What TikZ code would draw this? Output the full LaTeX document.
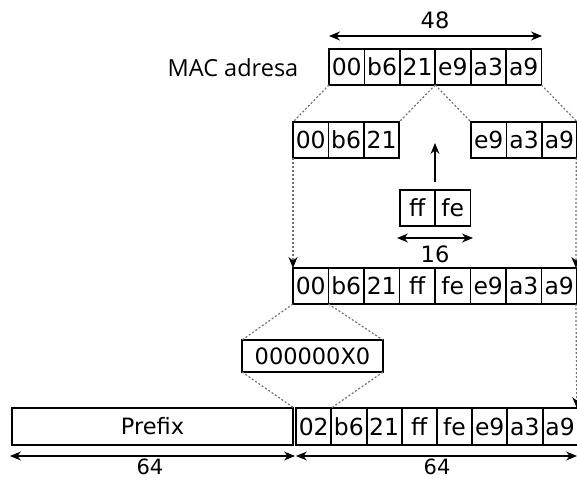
\documentclass[tikz,border=0pt]{standalone}
\usepackage{fontspec}
\setmainfont{DejaVu Sans}
\newfontfamily\labfont{Open Sans}
\usetikzlibrary{arrows.meta}
\begin{document}
\begin{tikzpicture}[x=1pt,y=-1pt,
  cell/.style={draw, line width=1.8pt, inner sep=0pt, outer sep=0pt,
    minimum width=35.4pt, minimum height=36pt, anchor=north west,
    font=\fontsize{23.5}{23.5}\selectfont},
  wide/.style={cell, minimum width=141pt, minimum height=32pt, font=\fontsize{22.5}{22.5}\selectfont},
  prefbox/.style={cell, minimum width=281pt, minimum height=37pt, font=\fontsize{22.5}{22.5}\selectfont},
  dim/.style={line width=1.1pt, {Stealth[length=11pt,width=9pt]}-{Stealth[length=11pt,width=9pt]}},
  uparrow/.style={line width=1.1pt, -{Stealth[length=11pt,width=9pt]}},
  dots/.style={black!55, line width=1.2pt, dash pattern=on 2pt off 2pt},
  dotarrow/.style={dots, -{Stealth[length=11pt,width=9pt,color=black]}, shorten >=0pt},
  num/.style={font=\fontsize{22.5}{22.5}\selectfont, inner sep=0pt},
]
\useasboundingbox (0,0) rectangle (577,481);

% 48 dimension
\coordinate (d48a) at (329,36);
\coordinate (d48b) at (542,36);
\draw[dim] (d48a) -- (d48b);
\node[num] (l48) at (435,20) {48};

% MAC label
\node[font=\labfont\fontsize{23.5}{23.5}\selectfont, inner sep=0pt] (mac) at (233,68) {MAC adresa};

% MAC row
\node[cell] (m1) at (329,49) {00};
\node[cell] (m2) at (364.4,49) {b6};
\node[cell] (m3) at (399.8,49) {21};
\node[cell] (m4) at (435.2,49) {e9};
\node[cell] (m5) at (470.6,49) {a3};
\node[cell] (m6) at (506,49) {a9};

% split groups
\node[cell] (l1) at (293,122) {00};
\node[cell] (l2) at (328.4,122) {b6};
\node[cell] (l3) at (363.8,122) {21};
\node[cell] (r1) at (471,122) {e9};
\node[cell] (r2) at (506.4,122) {a3};
\node[cell] (r3) at (541.8,122) {a9};

\draw[dots] (m1.south west) -- (l1.north west);
\draw[dots] (m4.south west) -- (l3.north east);
\draw[dots] (m4.south west) -- (r1.north west);
\draw[dots] (m6.south east) -- (r3.north east);

% ff fe
\node[cell] (f1) at (399.6,190) {ff};
\node[cell] (f2) at (435,190) {fe};
\coordinate (uptop) at (435,143);
\draw[uparrow] ([yshift=8pt]f1.north east) -- (uptop);
\coordinate (d16a) at (397,238);
\coordinate (d16b) at (473,238);
\draw[dim] (d16a) -- (d16b);
\node[num] (l16) at (435,254) {16};

% middle row
\node[cell] (c1) at (293,268) {00};
\node[cell] (c2) at (328.5,268) {b6};
\node[cell] (c3) at (364,268) {21};
\node[cell] (c4) at (399.5,268) {ff};
\node[cell] (c5) at (435,268) {fe};
\node[cell] (c6) at (470.5,268) {e9};
\node[cell] (c7) at (506,268) {a3};
\node[cell] (c8) at (541.5,268) {a9};

\draw[dotarrow] (l1.south west) -- (c1.north west);
\draw[dotarrow] ([xshift=-1pt]r3.south east) -- ([xshift=-1pt]c8.north east);

% 000000X0
\node[wide] (x0) at (242,340) {000000X0};
\draw[dots] (c1.south west) -- (x0.north west);
\draw[dots] (c2.south west) -- (x0.north east);

% bottom row
\node[prefbox] (pre) at (12,408) {Prefix};
\node[cell, minimum height=37pt] (b1) at (296,408) {02};
\node[cell, minimum height=37pt] (b2) at (331.2,408) {b6};
\node[cell, minimum height=37pt] (b3) at (366.4,408) {21};
\node[cell, minimum height=37pt] (b4) at (401.6,408) {ff};
\node[cell, minimum height=37pt] (b5) at (436.8,408) {fe};
\node[cell, minimum height=37pt] (b6) at (472,408) {e9};
\node[cell, minimum height=37pt] (b7) at (507.2,408) {a3};
\node[cell, minimum height=37pt] (b8) at (542.4,408) {a9};

\draw[dots] (x0.south west) -- ([xshift=-2pt]b1.north west);
\draw[dots] (x0.south east) -- (b1.north east);
\draw[dotarrow] ([xshift=-1pt]c8.south east) -- ([xshift=-1pt]b8.north east);

% 64 dimensions
\coordinate (p1) at (10,456);
\coordinate (p2) at (295,456);
\coordinate (p3) at (296,456);
\coordinate (p4) at (577,456);
\draw[dim] (p1) -- (p2);
\draw[dim] (p3) -- (p4);
\node[num, font=\fontsize{21}{21}\selectfont] (l64a) at (150,467) {64};
\node[num, font=\fontsize{21}{21}\selectfont] (l64b) at (437,467) {64};
\end{tikzpicture}
\end{document}
